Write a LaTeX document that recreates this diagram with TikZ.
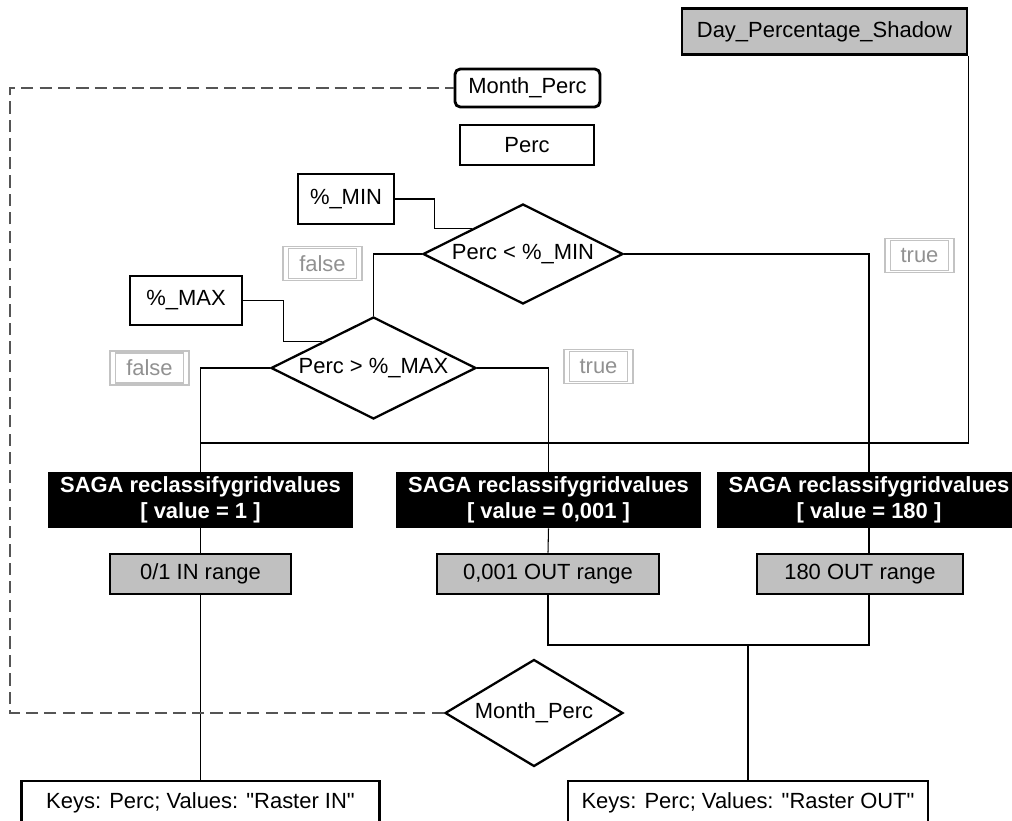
\documentclass[tikz,border=0pt]{standalone}
\usepackage{fontspec}
\setmainfont{Liberation Sans}[Ligatures=TeXOff]
\usetikzlibrary{shapes.geometric}
\definecolor{boxgray}{RGB}{192,192,192}
\definecolor{flaggray}{RGB}{195,195,195}
\definecolor{flagtext}{RGB}{145,145,145}
\definecolor{loopgray}{RGB}{85,85,85}

\begin{document}
\begin{tikzpicture}[x=0.02cm, y=-0.02cm,
  every node/.style={font=\fontsize{12.5}{15}\selectfont, inner sep=2pt},
  var/.style={draw, line width=1.6pt, minimum height=0.8cm},
  raster/.style={var, fill=boxgray},
  tool/.style={fill=black, text=white, font=\fontsize{12.5}{15}\selectfont\bfseries, align=center, minimum width=6.1cm, minimum height=1.12cm},
  test/.style={diamond, draw, line width=1.3pt, inner sep=0pt, aspect=2},
  flag/.style={draw=flaggray, line width=0.8pt, text=flagtext, minimum height=0.68cm,
    path picture={\draw[flaggray, line width=0.8pt] ([shift={(3pt,1.2pt)}]path picture bounding box.south west) rectangle ([shift={(-3pt,-1.2pt)}]path picture bounding box.north east);}},
  wire/.style={line width=0.6pt},
  feedback/.style={loopgray, line width=0.9pt, dash pattern=on 7pt off 3.5pt}]
\useasboundingbox (0,0) rectangle (1012,821);
\node[raster, minimum width=5.7cm, minimum height=0.92cm] (dps) at (824.5,31.5) {Day\_Percentage\_Shadow};
\node[var, rounded corners=3pt, minimum width=2.9cm, minimum height=0.76cm] (mpin) at (527.5,88) {Month\_Perc};
\node[var, minimum width=2.68cm] (perc) at (527,145) {Perc};
\node[var, minimum width=1.92cm, minimum height=1cm] (pmin) at (346,199) {\%\_MIN};
\node[var, minimum width=2.24cm, minimum height=0.98cm] (pmax) at (186,300.5) {\%\_MAX};
\node[test, minimum width=4cm, minimum height=2cm] (lt) at (523,254) {Perc < \%\_MIN};
\node[test, minimum width=4.1cm, minimum height=2.04cm] (gt) at (373.5,368) {Perc > \%\_MAX};
\node[flag, minimum width=1.58cm] (ltno) at (322.5,263.5) {false};
\node[flag, minimum width=1.38cm] (ltyes) at (919.5,255.5) {true};
\node[flag, minimum width=1.58cm] (gtno) at (149.5,368) {false};
\node[flag, minimum width=1.38cm] (gtyes) at (598.5,366.5) {true};
\node[tool] (rc1) at (200.5,500) {SAGA reclassifygridvalues\\{[ value = 1 ]}};
\node[tool] (rc2) at (548.5,500) {SAGA reclassifygridvalues\\{[ value = 0,001 ]}};
\node[tool] (rc3) at (869,500) {SAGA reclassifygridvalues\\{[ value = 180 ]}};
\node[raster, minimum width=3.62cm] (in1) at (200.5,574) {0/1 IN range};
\node[raster, minimum width=4.44cm] (out2) at (548,574) {0,001 OUT range};
\node[raster, minimum width=4.12cm] (out3) at (860,574) {180 OUT range};
\node[test, aspect=1.66, minimum width=3.56cm, minimum height=2.14cm] (mpout) at (534,713) {Month\_Perc};
\node[var, minimum width=7.16cm, minimum height=0.88cm] (keysin) at (200.5,803) {Keys: Perc; Values: "Raster IN"};
\node[var, minimum width=7.2cm, minimum height=0.88cm] (keysout) at (748,803) {Keys: Perc; Values: "Raster OUT"};
\coordinate (bus) at (201,443);
\coordinate (merge) at (748,645);
\coordinate (edge) at (10,0);
\draw[wire] (pmin.east) -- ++(39,0) |- (lt.north west);
\draw[wire] (pmax.east) -- ++(40,0) |- (gt.north west);
\draw[wire] (lt.west) -| (gt.north);
\draw[wire] (lt.east) -| (rc3.north);
\draw[wire] (gt.west) -| (rc1.north);
\draw[wire] (gt.east) -| (rc2.north);
\draw[wire] (dps.south east) |- (bus);
\draw[wire] (rc1.south) -- (in1.north);
\draw[wire] (rc2.south) -- (out2.north);
\draw[wire] (rc3.south) -- (rc3.south |- out3.north);
\draw[wire] (in1.south) -- (keysin.north);
\draw[wire] (out2.south) |- (merge);
\draw[wire] (rc3.south |- out3.south) |- (merge);
\draw[wire] (merge) -- (keysout.north);
\draw[feedback] (mpout.west) -| (edge |- mpin.west) -- (mpin.west);
\end{tikzpicture}
\end{document}
